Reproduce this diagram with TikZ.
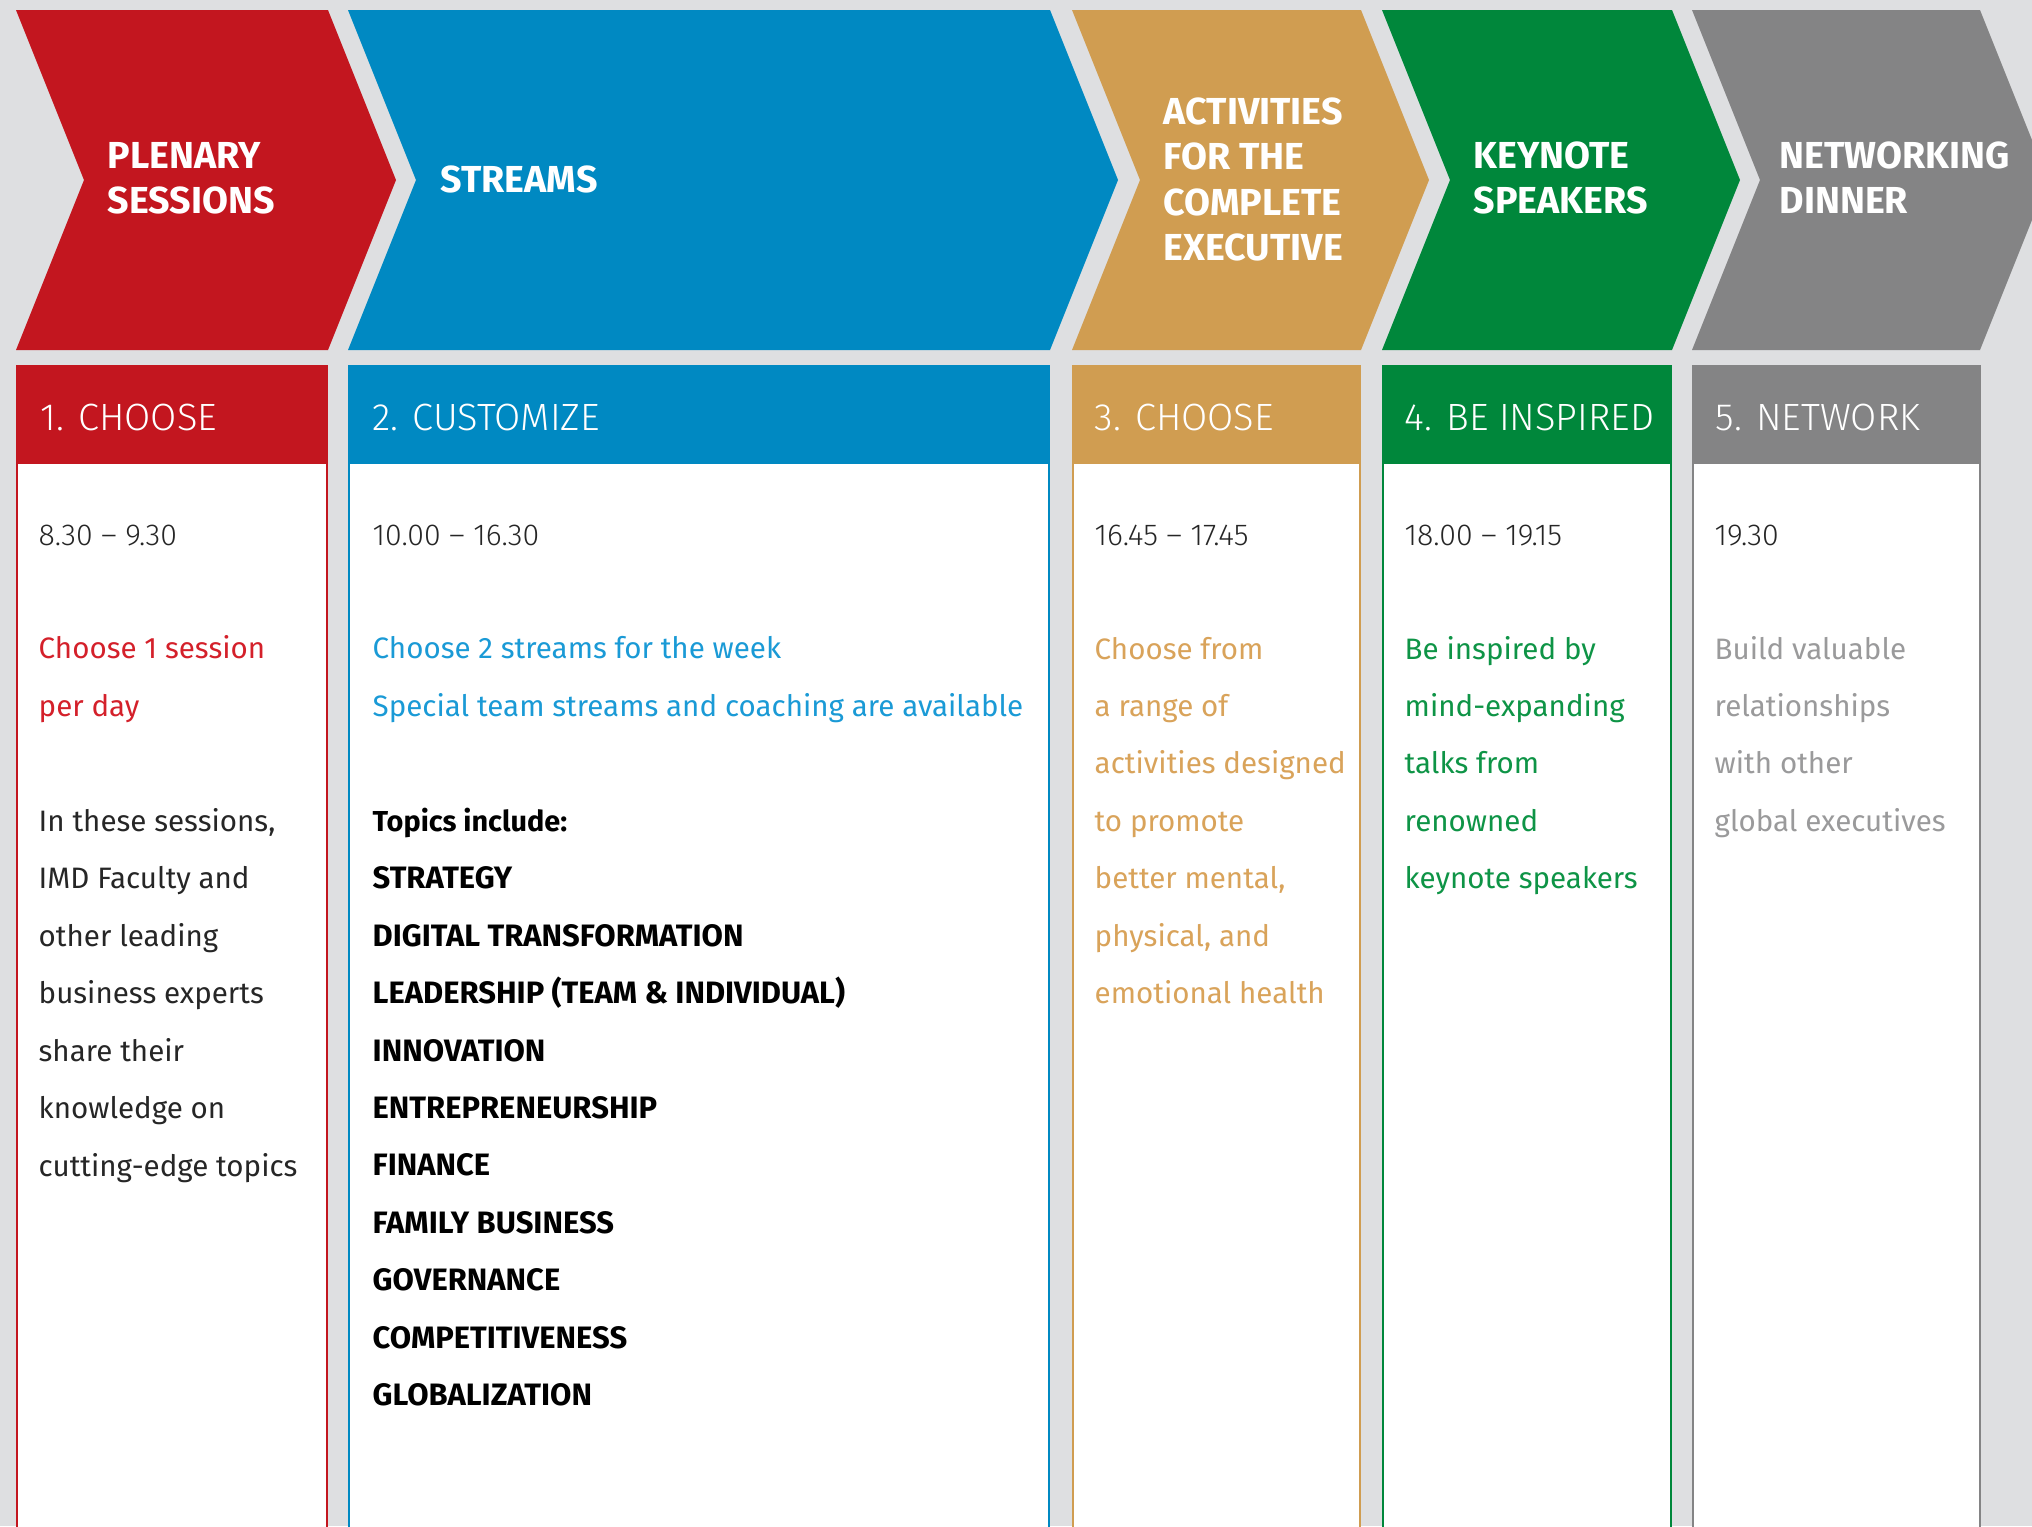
\documentclass[tikz,border=0pt]{standalone}
\usepackage{fontspec}
\setmainfont{Fira Sans}
\newfontfamily\lightfont{Fira Sans Light}[Ligatures=TeX]
\usepackage{tikz}

\definecolor{bggray}{HTML}{DEDFE1}
\definecolor{plenred}{HTML}{C3161F}
\definecolor{streamblue}{HTML}{0089C2}
\definecolor{acttan}{HTML}{D09D51}
\definecolor{keygreen}{HTML}{00873B}
\definecolor{netgray}{HTML}{848485}
\definecolor{redtxt}{HTML}{D4202A}
\definecolor{bluetxt}{HTML}{1A9AD6}
\definecolor{tantxt}{HTML}{D9A35A}
\definecolor{greentxt}{HTML}{0E9446}
\definecolor{graytxt}{HTML}{9A9A9B}

\begin{document}
\begin{tikzpicture}[x=0.01cm, y=-0.01cm,
  title/.style={anchor=base west, align=left, inner sep=0pt, text=white,
    font=\bfseries\fontsize{10.7}{12.8}\selectfont},
  stagehead/.style={anchor=base west, inner sep=0pt, text=white,
    font=\lightfont\fontsize{10.8}{13}\selectfont},
  timetxt/.style={anchor=base west, inner sep=0pt, text=black!85,
    font=\lightfont\fontsize{8.6}{11}\selectfont},
  bodytxt/.style={anchor=base west, align=left, inner sep=0pt,
    font=\fontsize{8.4}{16.33}\selectfont},
  topictxt/.style={anchor=base west, align=left, inner sep=0pt, text=black,
    font=\bfseries\fontsize{8.8}{16.33}\selectfont}]
\useasboundingbox (0,0) rectangle (2032,1526);
\fill[bggray] (0,0) rectangle (2032,1526);
\clip (0,0) rectangle (2032,1526);

% chevrons
\fill[plenred] (16,10) -- (328,10) -- (396,180) -- (328,350) -- (16,350) -- (84,180) -- cycle;
\fill[streamblue] (348,10) -- (1050,10) -- (1118,180) -- (1050,350) -- (348,350) -- (416,180) -- cycle;
\fill[acttan] (1072,10) -- (1361,10) -- (1429,180) -- (1361,350) -- (1072,350) -- (1140,180) -- cycle;
\fill[keygreen] (1382,10) -- (1672,10) -- (1740,180) -- (1672,350) -- (1382,350) -- (1450,180) -- cycle;
\fill[netgray] (1692,10) -- (1980,10) -- (2048,180) -- (1980,350) -- (1692,350) -- (1760,180) -- cycle;

% header bars
\fill[plenred] (16,365) rectangle (328,463);
\fill[streamblue] (348,365) rectangle (1050,463);
\fill[acttan] (1072,365) rectangle (1361,463);
\fill[keygreen] (1382,365) rectangle (1672,463);
\fill[netgray] (1692,365) rectangle (1981,463);

% white columns
\filldraw[fill=white, draw=plenred, line width=0.5pt] (17,463) rectangle (327,1560);
\filldraw[fill=white, draw=streamblue, line width=0.5pt] (349,463) rectangle (1049,1560);
\filldraw[fill=white, draw=acttan, line width=0.5pt] (1073,463) rectangle (1360,1560);
\filldraw[fill=white, draw=keygreen, line width=0.5pt] (1383,463) rectangle (1671,1560);
\filldraw[fill=white, draw=netgray, line width=0.5pt] (1693,463) rectangle (1980,1560);

% titles (placed at the baseline of the last line)
\node[title] (plentitle) at (107,213) {PLENARY\\SESSIONS};
\node[title] (streamtitle) at (440,192) {STREAMS};
\node[title] (acttitle) at (1163,260) {ACTIVITIES\\FOR THE\\COMPLETE\\EXECUTIVE};
\node[title] (keytitle) at (1473,213) {KEYNOTE\\SPEAKERS};
\node[title] (nettitle) at (1779,213) {NETWORKING\\DINNER};

% step headers
\node[stagehead] (plenhead) at (40,430) {1. CHOOSE};
\node[stagehead] (streamhead) at (372,430) {2. CUSTOMIZE};
\node[stagehead] (acthead) at (1094,430) {3. CHOOSE};
\node[stagehead] (keyhead) at (1404,430) {4. BE INSPIRED};
\node[stagehead] (nethead) at (1715,430) {5. NETWORK};

% times
\node[timetxt] (plentime) at (38,545) {8.30 \textendash{} 9.30};
\node[timetxt] (streamtime) at (372,545) {10.00 \textendash{} 16.30};
\node[timetxt] (acttime) at (1094,545) {16.45 \textendash{} 17.45};
\node[timetxt] (keytime) at (1404,545) {18.00 \textendash{} 19.15};
\node[timetxt] (nettime) at (1714,545) {19.30};

% descriptions, first line at 659, 57.4 per line
\node[bodytxt, text=redtxt] (plentext) at (38,716.4) {Choose 1 session\\per day};
\node[bodytxt, text=black!85] (plenmore) at (38,1176)
  {In these sessions,\\IMD Faculty and\\other leading\\business experts\\share their\\knowledge on\\cutting-edge topics};
\node[bodytxt, text=bluetxt] (streamtext) at (372,716.4)
  {Choose 2 streams for the week\\Special team streams and coaching are available};
\node[topictxt] (topics) at (372,1405.6)
  {\fontsize{8.2}{16.33}\selectfont Topics include:\\STRATEGY\\DIGITAL TRANSFORMATION\\LEADERSHIP (TEAM \& INDIVIDUAL)\\INNOVATION\\ENTREPRENEURSHIP\\FINANCE\\FAMILY BUSINESS\\GOVERNANCE\\COMPETITIVENESS\\GLOBALIZATION};
\node[bodytxt, text=tantxt] (acttext) at (1094,1003.6)
  {Choose from\\a range of\\activities designed\\to promote\\better mental,\\physical, and\\emotional health};
\node[bodytxt, text=greentxt] (keytext) at (1404,888.7)
  {Be inspired by\\mind-expanding\\talks from\\renowned\\keynote speakers};
\node[bodytxt, text=graytxt] (nettext) at (1714,831.3)
  {Build valuable\\relationships\\with other\\global executives};
\end{tikzpicture}
\end{document}
